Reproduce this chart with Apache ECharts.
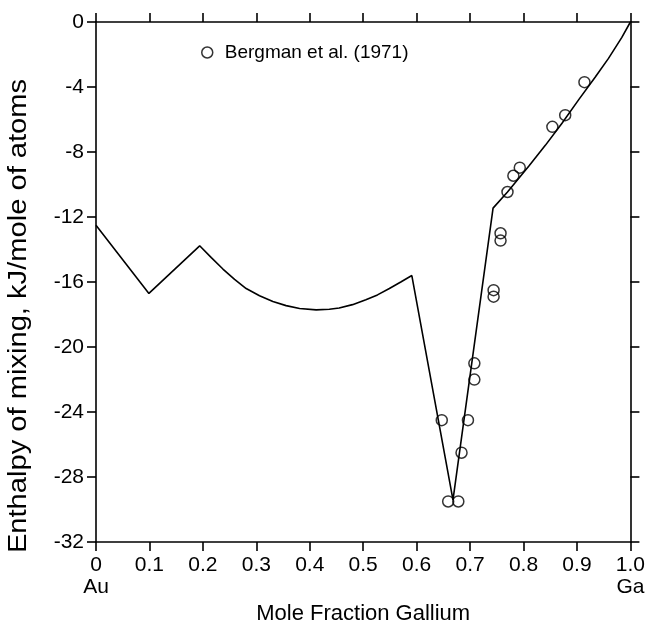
<!DOCTYPE html>
<html>
<head>
<meta charset="utf-8">
<script src="https://cdn.jsdelivr.net/npm/echarts@6/dist/echarts.min.js"></script>
<style>html,body{margin:0;padding:0;background:#fff}#c{width:648px;height:630px}</style>
</head>
<body>
<div id="c"></div>
<script>
// Calculated enthalpy of mixing curve (mole fraction Ga, kJ/mol)
var curveX = [0, 0.099, 0.194, 0.2158, 0.2375, 0.2593, 0.281, 0.306, 0.331, 0.3557, 0.381, 0.412, 0.4366, 0.455, 0.480, 0.505, 0.5267, 0.549, 0.5703, 0.591, 0.668, 0.743, 0.770, 0.8097, 0.8408, 0.872, 0.903, 0.934, 0.959, 0.984, 1.0];
var curveY = [-12.5, -16.7, -13.77, -14.5, -15.2, -15.84, -16.4, -16.84, -17.2, -17.45, -17.63, -17.71, -17.67, -17.6, -17.39, -17.09, -16.79, -16.4, -16.0, -15.6, -29.4, -11.45, -10.46, -8.88, -7.59, -6.23, -4.79, -3.40, -2.24, -0.95, 0];
// Bergman et al. (1971) experimental points
var expX = [0.647, 0.659, 0.678, 0.684, 0.696, 0.708, 0.708, 0.744, 0.744, 0.757, 0.757, 0.770, 0.781, 0.793, 0.854, 0.878, 0.914];
var expY = [-24.5, -29.5, -29.5, -26.5, -24.5, -21.0, -22.0, -16.5, -16.9, -13.0, -13.45, -10.46, -9.46, -8.96, -6.45, -5.73, -3.70];
// tick labels
var xTickLabels = ['0\nAu', '0.1', '0.2', '0.3', '0.4', '0.5', '0.6', '0.7', '0.8', '0.9', '1.0\nGa'];
var yTickLabels = ['-32', '-28', '-24', '-20', '-16', '-12', '-8', '-4', '0'];
var seriesName = 'Bergman et al. (1971)';
var xTitle = 'Mole Fraction Gallium';
var yTitle = 'Enthalpy of mixing, kJ/mole of atoms';

var FONT = '"Liberation Sans", Arial, Helvetica, sans-serif';
var curve = curveX.map(function (x, i) { return [x, curveY[i]]; });
var pts = expX.map(function (x, i) { return [x, expY[i]]; });

var axisLine = { show: true, onZero: false, lineStyle: { color: '#000', width: 1.6 } };
var axisTick = { show: true, inside: false, length: 9, lineStyle: { color: '#000', width: 1.6 } };

var chart = echarts.init(document.getElementById('c'), null, { renderer: 'canvas' });
chart.setOption({
  animation: false,
  backgroundColor: '#fff',
  textStyle: { fontFamily: FONT },
  grid: { left: 96, right: 16, top: 22, bottom: 72, containLabel: false },
  legend: {
    left: 196, top: 38, itemWidth: 11, itemHeight: 11,
    textStyle: { fontFamily: FONT, fontSize: 19, color: '#000', padding: [0, 0, 0, 7] },
    data: [{ name: seriesName, icon: 'circle', itemStyle: { color: '#fff', borderColor: '#000', borderWidth: 1.5 } }]
  },
  graphic: [
    {
      type: 'text', x: 19, y: 316, rotation: Math.PI / 2, scaleX: 1.12, scaleY: 1,
      style: { text: yTitle, fill: '#000', font: '26px ' + FONT, align: 'center', verticalAlign: 'middle' }
    }
  ],
  xAxis: [
    {
      type: 'value', position: 'bottom', min: 0, max: 1, interval: 0.1,
      axisLine: axisLine, axisTick: axisTick, splitLine: { show: false },
      axisLabel: {
        color: '#000', fontSize: 21, fontFamily: FONT, margin: 12, lineHeight: 22,
        formatter: function (v) { return xTickLabels[Math.round(v * 10)]; }
      },
      name: xTitle, nameLocation: 'middle', nameGap: 48,
      nameTextStyle: { color: '#000', fontSize: 22, fontFamily: FONT }
    },
    {
      type: 'value', position: 'top', min: 0, max: 1, interval: 0.1,
      axisLine: axisLine, axisTick: axisTick, splitLine: { show: false },
      axisLabel: { show: false }
    }
  ],
  yAxis: [
    {
      type: 'value', position: 'left', min: -32, max: 0, interval: 4,
      axisLine: axisLine, axisTick: axisTick, splitLine: { show: false },
      axisLabel: {
        color: '#000', fontSize: 21, fontFamily: FONT, margin: 12,
        formatter: function (v) { return yTickLabels[Math.round((v + 32) / 4)]; }
      }
    },
    {
      type: 'value', position: 'right', min: -32, max: 0, interval: 4,
      axisLine: axisLine, axisTick: axisTick, splitLine: { show: false },
      axisLabel: { show: false }
    }
  ],
  series: [
    {
      name: 'calc', type: 'line', data: curve, showSymbol: false, symbol: 'none',
      lineStyle: { color: '#000', width: 1.6 }, z: 2
    },
    {
      name: seriesName, type: 'scatter', data: pts, symbol: 'circle', symbolSize: 11,
      itemStyle: { color: 'rgba(255,255,255,0)', borderColor: '#000', borderWidth: 1.5 }, z: 3
    }
  ]
});
</script>
</body>
</html>
